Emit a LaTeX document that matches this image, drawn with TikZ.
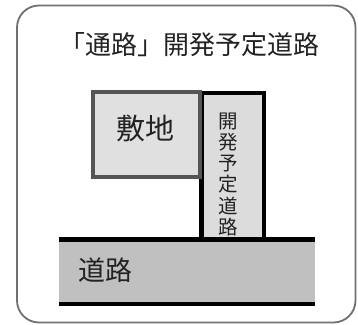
\documentclass[tikz,border=0pt]{standalone}
\usepackage{fontspec}
\usepackage{xcolor}
\usetikzlibrary{calc}
\newfontfamily\jpfont{Noto Sans CJK JP}
\definecolor{framegray}{HTML}{707070}
\definecolor{sitegray}{HTML}{555555}
\definecolor{sitefill}{HTML}{E0E0E0}
\definecolor{stripfill}{HTML}{DCDCDC}
\definecolor{roadfill}{HTML}{C0C0C0}
\definecolor{textgray}{HTML}{222222}
\tikzset{
    jptext/.style={inner sep=0pt, text=textgray, font=\jpfont},
    areabox/.style={rectangle, inner sep=0pt, anchor=north west},
}

\begin{document}
\begin{tikzpicture}[x=1pt,y=-1pt]
        \newcommand{\figroadleft}{59}
        \newcommand{\figroadright}{315}
        \newcommand{\figroadtop}{239.5}
        \newcommand{\figroadbottom}{304}
        \newcommand{\figstripleft}{199}
        \newcommand{\figstripright}{261.5}
        \newcommand{\figstriptop}{90.5}
        \useasboundingbox (0,0) rectangle (358,324);
        \draw[framegray, line width=1.8pt, rounded corners=22pt] (17,5.5) rectangle (355.5,322.5);
        \node[jptext, font=\jpfont\fontsize{26}{26}\selectfont] (title) at (189,45) {「通路」開発予定道路};
        % planned road strip
        \node[areabox, draw=black, fill=stripfill, line width=4.5pt,
              minimum width=\figstripright pt-\figstripleft pt, minimum height=\figroadtop pt-\figstriptop pt]
              (strip) at (\figstripleft,\figstriptop) {};
        \node[jptext, font=\jpfont\fontsize{19.5}{21.2}\selectfont, align=center, anchor=north]
              (striptext) at (228,112.5) {開\\発\\予\\定\\道\\路};
        % site
        \node[areabox, draw=sitegray, fill=sitefill, line width=4pt, minimum width=107pt, minimum height=85pt]
              (site) at (91,90) {};
        \node[jptext, font=\jpfont\fontsize{29}{29}\selectfont] (sitetext) at (145,128) {敷地};
        % road
        \coordinate (roadtl) at (\figroadleft,\figroadtop);
        \coordinate (roadtr) at (\figroadright,\figroadtop);
        \coordinate (roadbl) at (\figroadleft,\figroadbottom);
        \coordinate (roadbr) at (\figroadright,\figroadbottom);
        \fill[roadfill] (roadtl) rectangle (roadbr);
        \draw[line width=5pt] (roadtl) -- (roadtr);
        \draw[line width=4pt] (roadbl) -- (roadbr);
        \node[jptext, font=\jpfont\fontsize{27}{27}\selectfont] (roadtext) at (105.5,270) {道路};
    \end{tikzpicture}
\end{document}
